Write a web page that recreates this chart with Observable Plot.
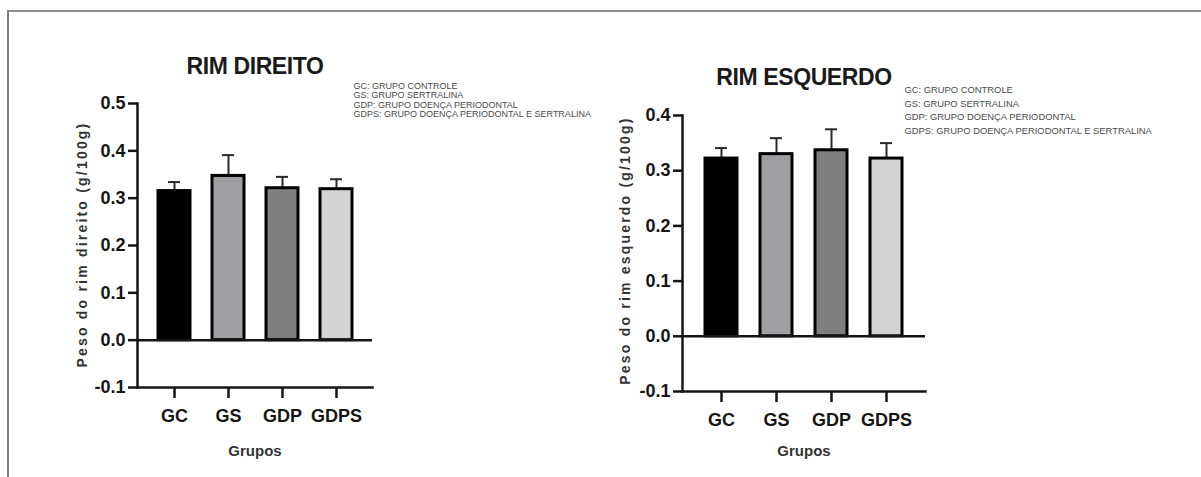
<!DOCTYPE html>
<html>
<head>
<meta charset="utf-8">
<script src="https://cdn.jsdelivr.net/npm/d3@7"></script>
<script src="https://cdn.jsdelivr.net/npm/@observablehq/plot@0.6"></script>
<style>
  body { margin: 0; background: #fff; font-family: "Liberation Sans", Arial, Helvetica, sans-serif; }
  #wrap { position: relative; width: 1201px; height: 477px; overflow: hidden; background: #fff; }
  .border { position: absolute; left: 7px; top: 10px; right: -10px; bottom: -10px;
            border-top: 2px solid #8e8e8e; border-left: 2px solid #7c7c7c; }
  .chart { position: absolute; top: 0; }
  .chart svg { overflow: visible; }
</style>
</head>
<body>
<div id="wrap">
  <div class="border"></div>
  <div class="chart" id="left" style="left:0px"></div>
  <div class="chart" id="right" style="left:600px"></div>
</div>
<script>
// ---- data ----
const groups = ["GC", "GS", "GDP", "GDPS"];
const groupFills = ["#000000", "#9e9ea3", "#7f7f7f", "#d3d3d3"];

const direitoMean = [0.315, 0.347, 0.321, 0.319];
const direitoSem  = [0.019, 0.044, 0.024, 0.021];
const esquerdoMean = [0.322, 0.330, 0.337, 0.322];
const esquerdoSem  = [0.019, 0.029, 0.038, 0.028];

const direitoTicks  = [-0.1, 0.0, 0.1, 0.2, 0.3, 0.4, 0.5];
const esquerdoTicks = [-0.1, 0.0, 0.1, 0.2, 0.3, 0.4];

const titleDireito  = "RIM DIREITO";
const titleEsquerdo = "RIM ESQUERDO";
const yLabelDireito  = "Peso do rim direito (g/100g)";
const yLabelEsquerdo = "Peso do rim esquerdo (g/100g)";
const xLabel = "Grupos";
const legendLines = [
  "GC: GRUPO CONTROLE",
  "GS: GRUPO SERTRALINA",
  "GDP: GRUPO DOENÇA PERIODONTAL",
  "GDPS: GRUPO DOENÇA PERIODONTAL E SERTRALINA"
];

function makeChart(o) {
  const data = groups.map((g, i) => ({ g, v: o.means[i], top: o.means[i] + o.sems[i], fill: groupFills[i] }));
  const ink = "#151515";
  const svg = Plot.plot({
    width: o.width, height: 477,
    marginTop: o.mt, marginRight: o.mr, marginBottom: o.mb, marginLeft: o.ml,
    style: { background: "transparent", overflow: "visible", color: ink,
             fontFamily: "'Liberation Sans', Arial, Helvetica, sans-serif" },
    x: { domain: groups, paddingInner: 0.41, paddingOuter: 0.38 },
    y: { domain: [o.ticks[0], o.ticks[o.ticks.length - 1]] },
    marks: [
      Plot.ruleX(data, { x: "g", y1: "v", y2: "top", stroke: "#2a2a2a", strokeWidth: 2 }),
      Plot.tickY(data, { x: "g", y: "top", stroke: "#2a2a2a", strokeWidth: 2, insetLeft: 10, insetRight: 10 }),
      Plot.barY(data, { x: "g", y: "v", fill: "fill", stroke: "#000", strokeWidth: 3 }),
      Plot.ruleY([0], { stroke: ink, strokeWidth: 2.5 }),
      Plot.frame({ anchor: "left", stroke: ink, strokeWidth: 2.5 }),
      Plot.frame({ anchor: "bottom", stroke: ink, strokeWidth: 2.5 }),
      Plot.axisY({ ticks: o.ticks, tickFormat: d => d.toFixed(1), tickSize: 9, tickPadding: 3,
                   fontSize: 18, fontWeight: "bold", fill: ink, stroke: ink, strokeWidth: 2.5, label: null }),
      Plot.axisX({ tickSize: 11, tickPadding: 11, fontSize: 18, fontWeight: "bold",
                   fill: ink, stroke: ink, strokeWidth: 2.5, label: null }),
      Plot.text([o.yLabel], { text: d => d, frameAnchor: "left", textAnchor: "middle", lineAnchor: "middle",
                              rotate: -90, dx: o.ylDx, dy: o.ylDy,
                              fontSize: 14, fontWeight: "bold", fill: "#333" }),
      Plot.text([xLabel], { text: d => d, frameAnchor: "bottom", dy: o.xlDy,
                            fontSize: 15, fontWeight: "bold", fill: "#333" }),
      Plot.text([o.title], { text: d => d, frameAnchor: "top", dy: o.tDy,
                             fontSize: 23, fontWeight: "bold", fill: "#1a1a1a" }),
      Plot.text([legendLines.join("\n")], { text: d => d, frameAnchor: "top-left", textAnchor: "start",
                             lineAnchor: "top", dx: o.lgDx, dy: o.lgDy, fontSize: o.lgFs, lineHeight: o.lgLh,
                             fill: "#4a4a4a" })
    ]
  });
  const texts = d3.select(svg).selectAll("text");
  texts.filter(function () { return this.textContent === o.yLabel; }).style("letter-spacing", "2.2px");
  texts.filter(function () { return this.textContent === o.title; }).style("letter-spacing", "-0.4px");
  return svg;
}

document.getElementById("left").appendChild(makeChart({
  means: direitoMean, sems: direitoSem, ticks: direitoTicks,
  title: titleDireito, yLabel: yLabelDireito,
  width: 600, mt: 103, mr: 228, mb: 90, ml: 137,
  ylDx: -55, ylDy: -1, xlDy: 68, tDy: -46,
  lgDx: 216, lgDy: -21, lgFs: 9, lgLh: 1.033
}));

document.getElementById("right").appendChild(makeChart({
  means: esquerdoMean, sems: esquerdoSem, ticks: esquerdoTicks,
  title: titleEsquerdo, yLabel: yLabelEsquerdo,
  width: 601, mt: 115, mr: 276, mb: 86, ml: 82,
  ylDx: -57, ylDy: -3, xlDy: 64, tDy: -47,
  lgDx: 222, lgDy: -32, lgFs: 9.4, lgLh: 1.447
}));
</script>
</body>
</html>
